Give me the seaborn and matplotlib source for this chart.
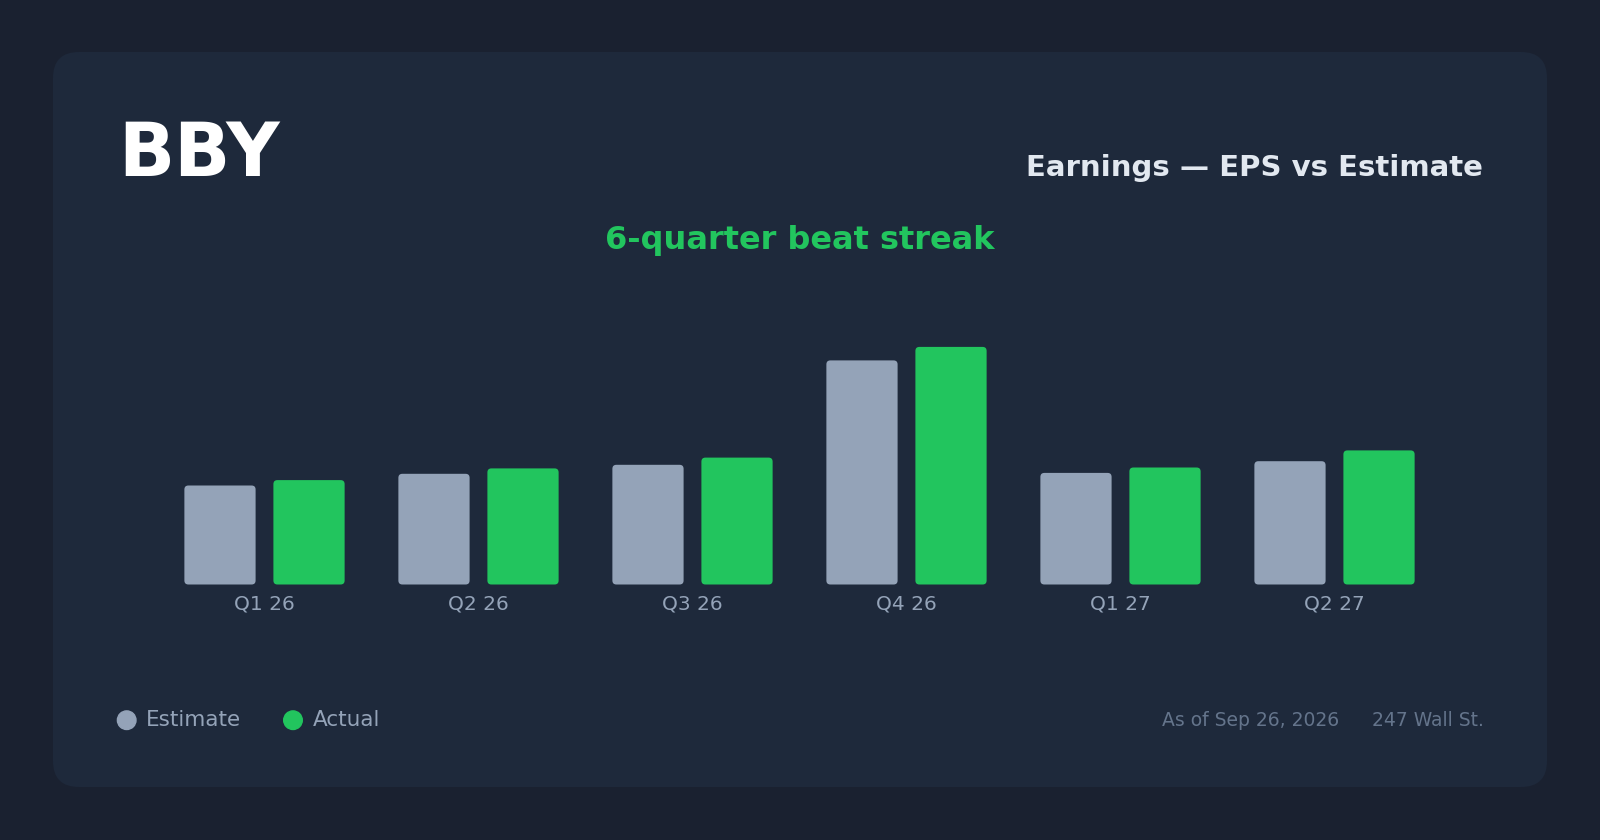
import pandas as pd
import seaborn as sns
import matplotlib.pyplot as plt
from matplotlib.patches import FancyBboxPatch, Circle

# data (EPS, $)
quarters = ['Q1 26', 'Q2 26', 'Q3 26', 'Q4 26', 'Q1 27', 'Q2 27']
estimate = [1.10, 1.23, 1.33, 2.49, 1.24, 1.37]
actual = [1.16, 1.29, 1.41, 2.64, 1.30, 1.49]
series_names = ['Estimate', 'Actual']

ticker = 'BBY'
title = 'Earnings \u2014 EPS vs Estimate'
subtitle = '6-quarter beat streak'
as_of = 'As of Sep 26, 2026'
source = '247 Wall St.'

OUTER = '#1a2130'
CARD = '#1e293b'
GREY = '#94a3b8'
GREEN = '#22c55e'

sns.set_style('dark')
plt.rcParams['font.family'] = ['DejaVu Sans']

df = pd.DataFrame({
    'quarter': quarters * 2,
    'eps': estimate + actual,
    'series': [series_names[0]] * len(quarters) + [series_names[1]] * len(quarters),
})

W, H = 1600, 840
fig = plt.figure(figsize=(W / 100, H / 100), dpi=100, facecolor=OUTER)

# background layer in pixel coordinates
bg = fig.add_axes([0, 0, 1, 1])
bg.set_xlim(0, W)
bg.set_ylim(H, 0)
bg.axis('off')
bg.add_patch(FancyBboxPatch((53, 52), 1494, 735,
                            boxstyle='round,pad=0,rounding_size=26',
                            facecolor=CARD, edgecolor='none'))

bg.text(118, 176, ticker, fontsize=53, fontweight='bold', color='white',
        ha='left', va='baseline')
bg.text(1483, 176, title, fontsize=21, fontweight='bold', color='#e2e8f0',
        ha='right', va='baseline')
bg.text(800, 249, subtitle, fontsize=23, fontweight='bold', color=GREEN,
        ha='center', va='baseline')

# legend
bg.add_patch(Circle((126.7, 720.2), 9.3, color=GREY))
bg.text(146, 726, series_names[0], fontsize=15.5, color=GREY, va='baseline')
bg.add_patch(Circle((293, 720.2), 9.3, color=GREEN))
bg.text(312.5, 726, series_names[1], fontsize=15.5, color=GREY, va='baseline')

# footer
bg.text(1339, 726, as_of, fontsize=13.5, color='#64748b', ha='right', va='baseline')
bg.text(1484, 726, source, fontsize=13.5, color='#64748b', ha='right', va='baseline')

# chart
px_per_unit = 90
left_px, right_px = 157.5, 1441.5
bottom_px, top_px = 584.5, 300
ax = fig.add_axes([left_px / W, (H - bottom_px) / H,
                   (right_px - left_px) / W, (bottom_px - top_px) / H])
ax.set_facecolor('none')

sns.barplot(data=df, x='quarter', y='eps', hue='series', order=quarters,
            hue_order=series_names, palette=[GREY, GREEN], saturation=1,
            width=0.832, gap=0.2, legend=False, ax=ax)

ax.set_xlim(-0.5, len(quarters) - 0.5)
ax.set_ylim(0, (bottom_px - top_px) / px_per_unit)

# swap the square bars for rounded ones
x_per_px = (len(quarters)) / (right_px - left_px)
y_per_px = 1 / px_per_unit
radius = 4 * x_per_px
for bar in list(ax.patches):
    rounded = FancyBboxPatch((bar.get_x(), bar.get_y()), bar.get_width(), bar.get_height(),
                             boxstyle=f'round,pad=0,rounding_size={radius}',
                             mutation_aspect=y_per_px / x_per_px,
                             facecolor=bar.get_facecolor(), edgecolor='none')
    bar.remove()
    ax.add_patch(rounded)

for s in ax.spines.values():
    s.set_visible(False)
ax.grid(False)
ax.set_xlabel('')
ax.set_ylabel('')
ax.set_yticks([])
ax.tick_params(axis='x', length=0, pad=7.5, labelsize=14.5, labelcolor=GREY)

fig.savefig('out.png', dpi=100, facecolor=OUTER)
